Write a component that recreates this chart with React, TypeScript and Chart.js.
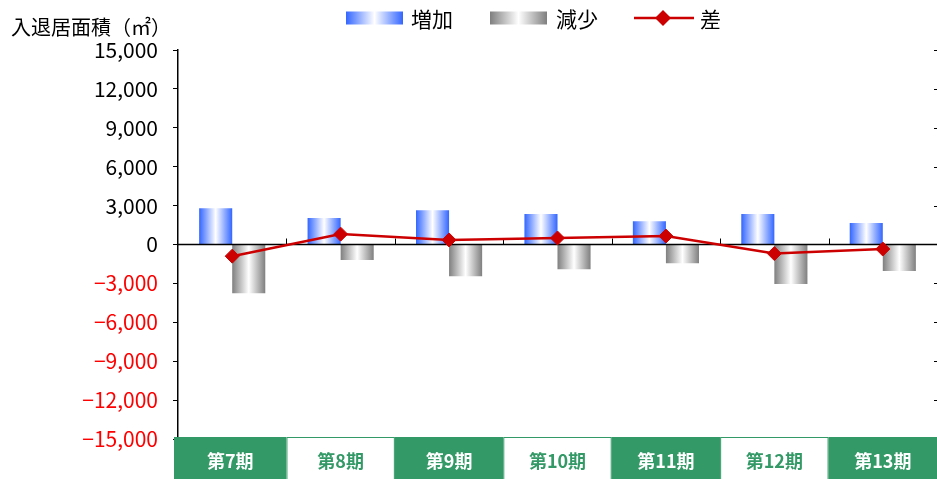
import React, { useEffect, useRef } from 'react';
import { Chart, registerables } from 'chart.js';

Chart.register(...registerables);

const categories = ['第7期', '第8期', '第9期', '第10期', '第11期', '第12期', '第13期'];
const increase = [2800, 2050, 2650, 2350, 1800, 2350, 1650];
const decrease = [-3750, -1200, -2450, -1900, -1450, -3050, -2050];
const difference = [-900, 800, 350, 500, 650, -700, -350];
const seriesNames = ['増加', '減少', '差'];
const yAxisTitle = '入退居面積（㎡）';
const yMin = -15000;
const yMax = 15000;
const yStep = 3000;

const FONT = '"Noto Sans CJK JP", "Noto Sans", sans-serif';
const BLUE = '#3366FF';
const GREY = '#7F7F7F';
const RED = '#CC0000';
const GREEN = '#339966';
const CAT_PCT = 0.61;

function fmt(v: number): string {
  const s = Math.abs(v).toLocaleString('en-US');
  return v < 0 ? '\u2212' + s : s;
}

function makeGradient(c: CanvasRenderingContext2D, x0: number, w: number, edge: string) {
  const g = c.createLinearGradient(x0, 0, x0 + w, 0);
  g.addColorStop(0, edge);
  g.addColorStop(0.5, '#FFFFFF');
  g.addColorStop(1, edge);
  return g;
}

function barFill(side: number, edge: string) {
  return (ctx: any) => {
    const chart = ctx.chart;
    const xs = chart.scales?.x;
    const area = chart.chartArea;
    if (!xs || !area || ctx.type !== 'data') return edge;
    const center = xs.getPixelForValue(ctx.dataIndex);
    const catW = (area.right - area.left) / categories.length;
    const barW = (catW * CAT_PCT) / 2;
    const x0 = side === 0 ? center - barW : center;
    return makeGradient(chart.ctx, x0, barW, edge);
  };
}

const customPlugin = {
  id: 'customDecor',
  afterDatasetDraw(chart: any, args: any) {
    if (args.index !== 0) return;
    const { ctx, chartArea } = chart;
    const xs = chart.scales.x;
    const ys = chart.scales.y;
    const y0 = ys.getPixelForValue(0);
    ctx.save();
    ctx.strokeStyle = '#000';
    ctx.lineWidth = 1.5;
    ctx.beginPath();
    ctx.moveTo(chartArea.left, y0);
    ctx.lineTo(chartArea.right, y0);
    ctx.stroke();
    ctx.lineWidth = 1;
    for (let i = 1; i < categories.length; i++) {
      const bx = Math.round((xs.getPixelForValue(i - 1) + xs.getPixelForValue(i)) / 2) + 0.5;
      ctx.beginPath();
      ctx.moveTo(bx, y0);
      ctx.lineTo(bx, y0 - 6);
      ctx.stroke();
    }
    ctx.restore();
  },
  afterDraw(chart: any) {
    const { ctx, chartArea, width, height } = chart;
    const xs = chart.scales.x;
    const ys = chart.scales.y;
    ctx.save();

    // right-edge tick marks
    ctx.strokeStyle = '#000';
    ctx.lineWidth = 1;
    for (let v = yMin; v <= yMax; v += yStep) {
      if (v === 0) continue;
      const py = Math.round(ys.getPixelForValue(v)) + 0.5;
      ctx.beginPath();
      ctx.moveTo(chartArea.right - 3, py);
      ctx.lineTo(chartArea.right, py);
      ctx.stroke();
    }

    // axis title
    ctx.fillStyle = '#000';
    ctx.font = `20px ${FONT}`;
    ctx.textAlign = 'left';
    ctx.textBaseline = 'middle';
    ctx.fillText(yAxisTitle, 11, 27);

    // legend
    const ly = 18;
    const bh = 13;
    ctx.fillStyle = makeGradient(ctx, 346, 57, BLUE);
    ctx.fillRect(346, ly - bh / 2, 57, bh);
    ctx.fillStyle = makeGradient(ctx, 490, 57, GREY);
    ctx.fillRect(490, ly - bh / 2, 57, bh);
    ctx.strokeStyle = RED;
    ctx.lineWidth = 2.5;
    ctx.beginPath();
    ctx.moveTo(634, ly);
    ctx.lineTo(694, ly);
    ctx.stroke();
    ctx.fillStyle = RED;
    ctx.beginPath();
    ctx.moveTo(663 - 8, ly);
    ctx.lineTo(663, ly - 8);
    ctx.lineTo(663 + 8, ly);
    ctx.lineTo(663, ly + 8);
    ctx.closePath();
    ctx.fill();
    ctx.fillStyle = '#000';
    ctx.font = `21px ${FONT}`;
    ctx.textAlign = 'left';
    ctx.fillText(seriesNames[0], 411, ly + 1);
    ctx.fillText(seriesNames[1], 556, ly + 1);
    ctx.fillText(seriesNames[2], 700, ly + 1);

    // category label boxes
    const top = chartArea.bottom - 2;
    const n = categories.length;
    for (let i = 0; i < n; i++) {
      const left = i === 0 ? chartArea.left - 4 : (xs.getPixelForValue(i - 1) + xs.getPixelForValue(i)) / 2;
      const right = i === n - 1 ? width : (xs.getPixelForValue(i) + xs.getPixelForValue(i + 1)) / 2;
      const filled = i % 2 === 0;
      ctx.fillStyle = filled ? GREEN : '#FFFFFF';
      ctx.fillRect(left, top, right - left, height - top);
      if (!filled) {
        ctx.strokeStyle = GREEN;
        ctx.lineWidth = 1;
        ctx.strokeRect(left + 0.5, top + 0.5, right - left - 1, height - top + 2);
      }
      ctx.fillStyle = filled ? '#FFFFFF' : GREEN;
      ctx.font = `bold 18px ${FONT}`;
      ctx.textAlign = 'center';
      ctx.textBaseline = 'middle';
      ctx.fillText(categories[i], (left + right) / 2, top + 24);
    }
    ctx.restore();
  },
};

export default function App() {
  const ref = useRef<HTMLCanvasElement | null>(null);
  useEffect(() => {
    if (!ref.current) return;
    const chart = new Chart(ref.current, {
      type: 'bar',
      data: {
        labels: categories,
        datasets: [
          {
            type: 'bar',
            label: seriesNames[0],
            data: increase,
            backgroundColor: barFill(0, BLUE),
            borderWidth: 0,
            order: 2,
          },
          {
            type: 'bar',
            label: seriesNames[1],
            data: decrease,
            backgroundColor: barFill(1, GREY),
            borderWidth: 0,
            order: 2,
          },
          {
            type: 'line',
            label: seriesNames[2],
            data: difference,
            borderColor: RED,
            borderWidth: 2.5,
            pointStyle: 'rectRot',
            pointRadius: 7,
            pointBackgroundColor: RED,
            pointBorderColor: RED,
            pointBorderWidth: 1,
            tension: 0,
            order: 1,
          } as any,
        ],
      },
      options: {
        animation: false,
        responsive: true,
        maintainAspectRatio: false,
        layout: { autoPadding: false, padding: { top: 50, bottom: 40, left: 0, right: 0 } },
        datasets: {
          bar: { categoryPercentage: CAT_PCT, barPercentage: 1 },
        },
        plugins: {
          legend: { display: false },
          tooltip: { enabled: false },
          title: { display: false },
        },
        scales: {
          x: { display: false },
          y: {
            min: yMin,
            max: yMax,
            ticks: {
              stepSize: yStep,
              padding: 15,
              font: { family: FONT, size: 21 },
              color: (c: any) => (c.tick && c.tick.value < 0 ? '#FF0000' : '#000000'),
              callback: (v: any) => fmt(Number(v)),
            },
            grid: {
              display: true,
              drawOnChartArea: false,
              drawTicks: true,
              tickLength: 5,
              color: '#000',
              lineWidth: 1,
            },
            border: { display: true, color: '#000', width: 1.5 },
            afterFit: (s: any) => {
              s.width = 178;
            },
          },
        },
      },
      plugins: [customPlugin],
    });
    return () => chart.destroy();
  }, []);
  return (
    <div style={{ position: 'absolute', left: 0, top: 0, width: 937, height: 479 }}>
      <canvas ref={ref} />
    </div>
  );
}
